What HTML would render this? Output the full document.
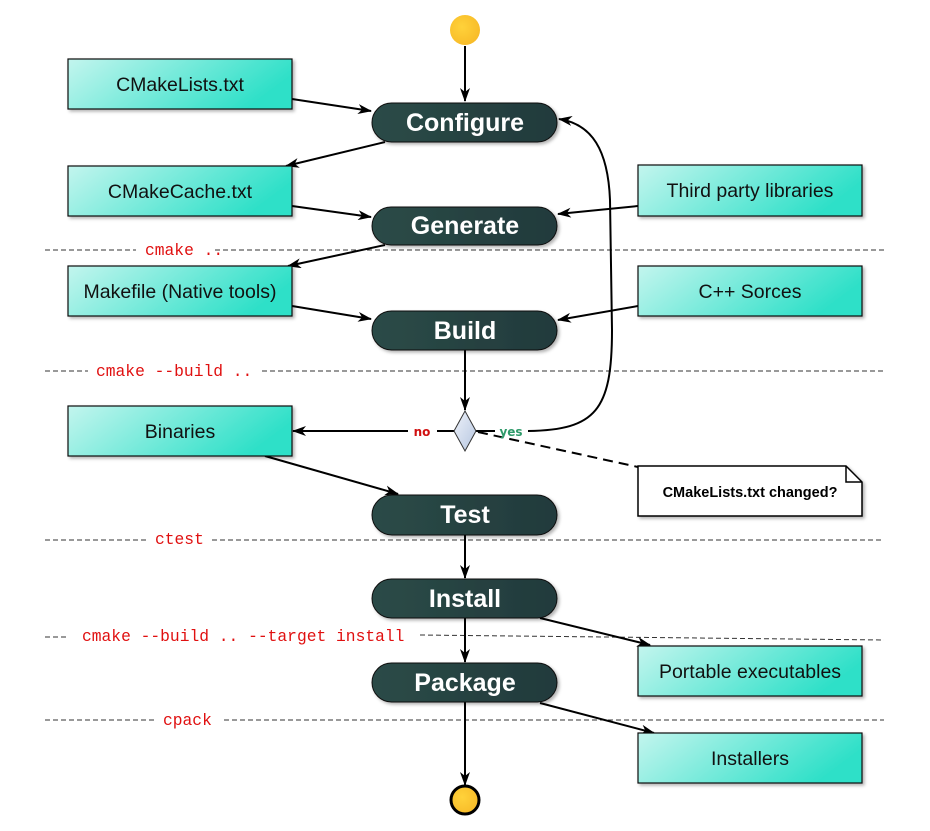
<!DOCTYPE html>
<html><head><meta charset="utf-8"><style>
html,body{margin:0;padding:0;background:#fff;}
svg{display:block;}
.bx{font-family:"Liberation Sans",sans-serif;font-size:19.5px;fill:#111;text-anchor:middle;}
.pl{font-family:"Liberation Sans",sans-serif;font-weight:bold;font-size:25px;fill:#fff;text-anchor:middle;}
.cmd{font-family:"Liberation Mono","DejaVu Sans Mono",monospace;font-size:16.3px;fill:#e01010;}
</style></head><body>
<svg width="930" height="831" viewBox="0 0 930 831" xmlns="http://www.w3.org/2000/svg">
<defs>
<linearGradient id="bg" x1="0" y1="0" x2="1" y2="0.3"><stop offset="0" stop-color="#c3f5ee"/><stop offset="1" stop-color="#2fe0c8"/></linearGradient>
<linearGradient id="pg" x1="0" y1="0" x2="1" y2="0"><stop offset="0" stop-color="#2b4b47"/><stop offset="1" stop-color="#223a3c"/></linearGradient>
<linearGradient id="dg" x1="0" y1="0" x2="1" y2="1"><stop offset="0" stop-color="#eef2fa"/><stop offset="1" stop-color="#b6c6e0"/></linearGradient>
<radialGradient id="yg" cx="0.4" cy="0.4" r="0.7"><stop offset="0" stop-color="#ffd23a"/><stop offset="1" stop-color="#f7b927"/></radialGradient>
<filter id="sh" x="-10%" y="-10%" width="130%" height="140%"><feDropShadow dx="2" dy="2" stdDeviation="1.5" flood-color="#000" flood-opacity="0.3"/></filter>
<marker id="ar" markerWidth="14" markerHeight="10" refX="13" refY="5" orient="auto" markerUnits="userSpaceOnUse"><path d="M0,0 L14,5 L0,10 L4,5 Z" fill="#000"/></marker>
</defs>

<g stroke="#333" stroke-width="1" stroke-dasharray="5,3" fill="none">
<path d="M45,250 H136 M215,250 H884"/>
<path d="M45,371 H88 M262,371 H884"/>
<path d="M45,540 H146 M212,540 H884"/>
<path d="M45,637 H68 M420,635 L884,640"/>
<path d="M45,720 H154 M224,720 H884"/>
</g>
<text class="cmd" x="145" y="255">cmake ..</text>
<text class="cmd" x="96" y="376">cmake --build ..</text>
<text class="cmd" x="155" y="544">ctest</text>
<text class="cmd" x="82" y="641">cmake --build .. --target install</text>
<text class="cmd" x="163" y="725">cpack</text>

<g stroke="#000" stroke-width="2" fill="none">
<line x1="465" y1="46" x2="465" y2="101" marker-end="url(#ar)"/>
<line x1="292" y1="99" x2="371" y2="111" marker-end="url(#ar)"/>
<line x1="385" y1="142" x2="286" y2="166" marker-end="url(#ar)"/>
<line x1="292" y1="206" x2="371" y2="217" marker-end="url(#ar)"/>
<line x1="638" y1="206" x2="558" y2="214" marker-end="url(#ar)"/>
<line x1="385" y1="245" x2="288" y2="266" marker-end="url(#ar)"/>
<line x1="292" y1="306" x2="371" y2="319" marker-end="url(#ar)"/>
<line x1="638" y1="306" x2="558" y2="320" marker-end="url(#ar)"/>
<line x1="465" y1="350" x2="465" y2="410" marker-end="url(#ar)"/>
<path d="M454,431 H437 M408,431 H293" marker-end="url(#ar)"/>
<path d="M476,431 H495 M528,431 C596,430 612,410 612,330 L610,200 C608,150 592,124 559,119" marker-end="url(#ar)"/>
<line x1="265" y1="456" x2="398" y2="494" marker-end="url(#ar)"/>
<line x1="465" y1="535" x2="465" y2="578" marker-end="url(#ar)"/>
<line x1="465" y1="618" x2="465" y2="662" marker-end="url(#ar)"/>
<line x1="465" y1="702" x2="465" y2="785" marker-end="url(#ar)"/>
<line x1="540" y1="618" x2="650" y2="645" marker-end="url(#ar)"/>
<line x1="540" y1="703" x2="654" y2="733" marker-end="url(#ar)"/>
<line x1="478" y1="432" x2="638" y2="467" stroke-dasharray="10,6"/>
</g>
<text x="422" y="436" font-family="DejaVu Sans,sans-serif" font-weight="bold" font-size="12" fill="#d01010" text-anchor="middle">no</text>
<text x="511" y="436" font-family="DejaVu Sans,sans-serif" font-weight="bold" font-size="12" fill="#2e9a6a" text-anchor="middle">yes</text>

<circle cx="465" cy="30" r="15" fill="url(#yg)"/>
<circle cx="465" cy="800" r="14" fill="url(#yg)" stroke="#000" stroke-width="3"/>

<path d="M465,411 L476,431 L465,451 L454,431 Z" fill="url(#dg)" stroke="#333" stroke-width="1"/>

<g stroke="#111" stroke-width="1.2" fill="url(#bg)" filter="url(#sh)">
<rect x="68" y="59" width="224" height="50"/>
<rect x="68" y="166" width="224" height="50"/>
<rect x="68" y="266" width="224" height="50"/>
<rect x="68" y="406" width="224" height="50"/>
<rect x="638" y="165" width="224" height="51"/>
<rect x="638" y="266" width="224" height="50"/>
<rect x="638" y="646" width="224" height="50"/>
<rect x="638" y="733" width="224" height="50"/>
</g>
<text class="bx" x="180" y="91">CMakeLists.txt</text>
<text class="bx" x="180" y="198">CMakeCache.txt</text>
<text class="bx" x="180" y="298">Makefile (Native tools)</text>
<text class="bx" x="180" y="438">Binaries</text>
<text class="bx" x="750" y="197">Third party libraries</text>
<text class="bx" x="750" y="298">C++ Sorces</text>
<text class="bx" x="750" y="678">Portable executables</text>
<text class="bx" x="750" y="765">Installers</text>

<path d="M638,466 H846 L862,482 V516 H638 Z" fill="#fff" stroke="#000" stroke-width="1.5" filter="url(#sh)"/>
<path d="M846,466 V482 H862" fill="none" stroke="#000" stroke-width="1.5"/>
<text x="750" y="497" font-family="Liberation Sans,sans-serif" font-weight="bold" font-size="14.5" text-anchor="middle">CMakeLists.txt changed?</text>

<g fill="url(#pg)" stroke="#111" stroke-width="1" filter="url(#sh)">
<rect x="372" y="103" width="185" height="39" rx="19.5"/>
<rect x="372" y="207" width="185" height="38" rx="19"/>
<rect x="372" y="311" width="185" height="39" rx="19.5"/>
<rect x="372" y="495" width="185" height="40" rx="20"/>
<rect x="372" y="579" width="185" height="39" rx="19.5"/>
<rect x="372" y="663" width="185" height="39" rx="19.5"/>
</g>
<text class="pl" x="465" y="131">Configure</text>
<text class="pl" x="465" y="234">Generate</text>
<text class="pl" x="465" y="339">Build</text>
<text class="pl" x="465" y="523">Test</text>
<text class="pl" x="465" y="607">Install</text>
<text class="pl" x="465" y="691">Package</text>
</svg>
</body></html>
